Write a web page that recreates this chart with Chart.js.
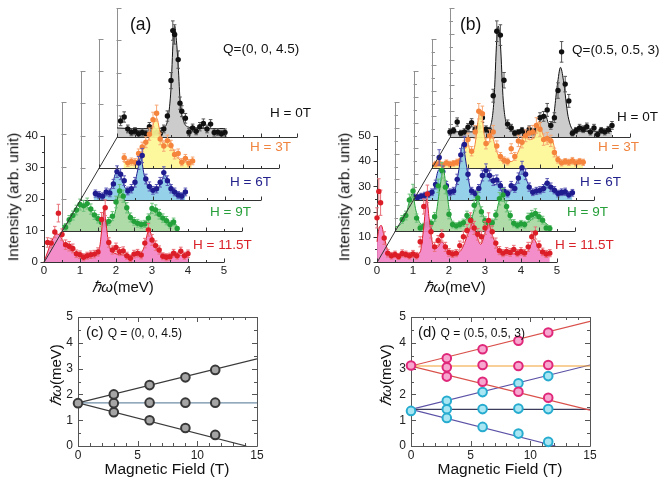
<!DOCTYPE html>
<html>
<head>
<meta charset="utf-8">
<script src="https://cdn.jsdelivr.net/npm/chart.js@4.4.1/dist/chart.umd.min.js"></script>
<style>
  body { margin: 0; width: 660px; height: 478px; background: #fff; position: relative; overflow: hidden;
         font-family: "Liberation Sans", Arial, sans-serif; color: #111; }
  .lay { position: absolute; }
  .ttl { position: absolute; white-space: nowrap; line-height: 1; transform: translate(-50%, -50%); z-index: 50; }
  .vert { transform: translate(-50%, -50%) rotate(-90deg); }
  .lab { position: absolute; white-space: nowrap; line-height: 1; transform: translateY(-50%); z-index: 50; }
</style>
</head>
<body>

<!-- panel (a) / (b) texts -->
<div class="lab" style="left:130px;top:25px;font-size:17.5px">(a)</div>
<div class="lab" style="left:223px;top:49px;font-size:13.5px">Q=(0, 0, 4.5)</div>
<div class="lab" style="left:270px;top:113px;font-size:13.5px">H = 0T</div>
<div class="lab" style="left:250px;top:147px;font-size:13.5px;color:#f0843f">H = 3T</div>
<div class="lab" style="left:230px;top:182px;font-size:13.5px;color:#24228c">H = 6T</div>
<div class="lab" style="left:210px;top:212px;font-size:13.5px;color:#27a03b">H = 9T</div>
<div class="lab" style="left:193px;top:245px;font-size:13.5px;color:#d9222a">H = 11.5T</div>
<div class="ttl vert" style="left:13px;top:197px;font-size:15.5px">Intensity (arb. unit)</div>
<div class="ttl" style="left:123px;top:286px;font-size:15px"><i>ℏω</i>(meV)</div>

<div class="lab" style="left:460px;top:25px;font-size:17.5px">(b)</div>
<div class="lab" style="left:572px;top:50px;font-size:13.5px">Q=(0.5, 0.5, 3)</div>
<div class="lab" style="left:617px;top:117px;font-size:13.5px">H = 0T</div>
<div class="lab" style="left:598px;top:147px;font-size:13.5px;color:#f0843f">H = 3T</div>
<div class="lab" style="left:580px;top:182px;font-size:13.5px;color:#24228c">H = 6T</div>
<div class="lab" style="left:567px;top:212px;font-size:13.5px;color:#27a03b">H = 9T</div>
<div class="lab" style="left:555px;top:245px;font-size:13.5px;color:#d9222a">H = 11.5T</div>
<div class="ttl vert" style="left:344px;top:197px;font-size:15.5px">Intensity (arb. unit)</div>
<div class="ttl" style="left:455px;top:286px;font-size:15px"><i>ℏω</i>(meV)</div>

<!-- panel (c) / (d) texts -->
<div class="lab" style="left:86px;top:331px;font-size:15px">(c) <span style="font-size:12px">Q = (0, 0, 4.5)</span></div>
<div class="ttl vert" style="left:55px;top:375px;font-size:15px"><i>ℏω</i>(meV)</div>
<div class="ttl" style="left:167px;top:469px;font-size:15.5px">Magnetic Field (T)</div>

<div class="lab" style="left:418px;top:331px;font-size:15px">(d) <span style="font-size:12px">Q = (0.5, 0.5, 3)</span></div>
<div class="ttl vert" style="left:385px;top:375px;font-size:15px"><i>ℏω</i>(meV)</div>
<div class="ttl" style="left:500px;top:469px;font-size:15.5px">Magnetic Field (T)</div>

<div class="lay" style="left:0;top:300px;width:330px;height:178px"><canvas id="chartC" width="330" height="178"></canvas></div>
<div class="lay" style="left:330px;top:300px;width:330px;height:178px"><canvas id="chartD" width="330" height="178"></canvas></div>

<script>
// ---- tick values ----
const energyTicks = [0, 1, 2, 3, 4, 5];
const energyMinor = [0.5, 1.5, 2.5, 3.5, 4.5];
const aIntTicks = [0, 10, 20, 30, 40];
const aIntMinor = [5, 15, 25, 35];
const bIntTicks = [0, 10, 20, 30, 40, 50];
const bIntMinor = [5, 15, 25, 35, 45];
const fieldTicks = [0, 5, 10, 15];
const fieldMinor = [1, 2, 3, 4, 6, 7, 8, 9, 11, 12, 13, 14];
const omegaTicks = [0, 1, 2, 3, 4, 5];
const omegaMinor = [0.5, 1.5, 2.5, 3.5, 4.5];

// ---- (a) Q=(0,0,4.5) spectra : [energy, intensity, error] ----
const a115 = [[0.1,6.2,1.5],[0.2,6.0,1.5],[0.3,9.5,1.8],[0.4,15.5,2.8],[0.5,8.7,1.8],[0.6,5.5,1.5],[0.7,5.0,1.5],[0.8,4.3,1.4],
  [0.9,2.6,1.2],[1.0,2.3,1.2],[1.1,1.5,1.1],[1.2,2.0,1.1],[1.3,2.3,1.2],[1.4,2.5,1.2],[1.5,3.2,1.3],[1.6,13.5,2.2],[1.7,17.2,2.5],
  [1.8,6.2,1.5],[1.9,3.8,1.3],[2.0,4.6,1.4],[2.1,3.3,1.3],[2.2,3.5,1.3],[2.3,2.0,1.1],[2.4,1.2,1.0],[2.5,2.5,1.2],[2.6,2.8,1.2],
  [2.7,2.2,1.2],[2.8,6.0,1.5],[2.9,10.2,2.0],[3.0,7.0,1.7],[3.1,5.2,1.5],[3.2,3.8,1.3],[3.3,1.8,1.1],[3.4,1.5,1.1],[3.5,1.7,1.1],
  [3.6,2.8,1.2],[3.7,2.0,1.1],[3.8,3.4,1.3],[3.9,2.0,1.1],[4.0,2.6,1.2]];
const a115Fit = [[0,0],[0.1,3.2],[0.2,6.2],[0.3,8.5],[0.38,8.9],[0.5,7.2],[0.6,5.2],[0.8,3.3],[1.0,2.4],[1.3,2.1],[1.45,2.6],
  [1.55,5.0],[1.62,12.0],[1.67,16.6],[1.72,12.5],[1.8,5.6],[1.9,3.3],[2.1,2.4],[2.5,2.1],[2.7,2.9],[2.8,5.4],[2.88,9.3],
  [2.93,9.9],[3.0,8.0],[3.12,4.3],[3.35,2.5],[3.7,2.1],[4.0,2.0]];
const a9 = [[0.1,1.2,1.1],[0.2,3.5,1.3],[0.3,4.8,1.4],[0.4,6.5,1.5],[0.5,8.2,1.7],[0.6,7.8,1.7],[0.7,8.5,1.7],[0.8,6.8,1.6],
  [0.9,5.0,1.4],[1.0,3.8,1.3],[1.1,2.6,1.2],[1.2,2.2,1.2],[1.3,3.0,1.2],[1.4,4.6,1.4],[1.5,9.0,1.8],[1.6,12.4,2.0],[1.7,10.8,1.9],
  [1.8,7.2,1.6],[1.9,4.2,1.4],[2.0,3.0,1.2],[2.1,2.4,1.2],[2.2,2.0,1.1],[2.3,2.2,1.1],[2.4,4.0,1.3],[2.5,7.0,1.6],[2.6,6.5,1.6],
  [2.7,5.2,1.5],[2.8,4.0,1.3],[2.9,3.2,1.3],[3.0,2.0,1.1],[3.1,2.8,1.2],[3.2,0.8,0.5]];
const a9Fit = [[0,1.5],[0.2,3.0],[0.4,6.0],[0.55,7.8],[0.7,7.5],[0.85,5.5],[1.0,3.5],[1.2,2.2],[1.35,2.8],[1.48,6.0],[1.58,11.5],
  [1.65,12.0],[1.75,9.0],[1.9,4.5],[2.05,2.6],[2.25,2.2],[2.4,4.0],[2.52,6.8],[2.6,6.5],[2.75,4.5],[2.95,2.6],[3.2,1.8]];
const a6 = [[0.4,2.0,1.1],[0.5,1.5,1.1],[0.6,1.2,1.0],[0.7,2.5,1.2],[0.8,2.2,1.2],[0.9,5.0,1.4],[1.0,8.8,1.8],[1.1,8.0,1.7],
  [1.2,6.0,1.5],[1.3,2.8,1.2],[1.4,3.5,1.3],[1.5,5.5,1.5],[1.6,11.5,2.0],[1.7,13.8,2.2],[1.8,6.5,1.5],[1.9,4.2,1.4],[2.0,3.0,1.2],
  [2.1,3.5,1.3],[2.2,5.5,1.5],[2.3,8.5,1.8],[2.4,6.0,1.5],[2.5,3.5,1.3],[2.6,2.5,1.2],[2.7,1.5,1.1],[2.8,1.2,1.0],[2.9,2.5,1.2]];
const a6Fit = [[0.35,1.5],[0.7,2.0],[0.85,4.0],[0.98,8.5],[1.1,7.5],[1.25,3.5],[1.45,3.5],[1.57,9.0],[1.66,13.2],[1.75,8.0],
  [1.9,3.5],[2.1,3.0],[2.22,5.5],[2.32,7.8],[2.42,6.0],[2.6,3.0],[2.9,1.8]];
const a3 = [[0.7,3.2,1.2],[0.8,1.6,1.1],[0.9,2.0,1.1],[1.0,1.8,1.1],[1.1,4.5,1.4],[1.2,6.5,1.5],[1.3,8.0,1.7],[1.4,10.5,1.9],
  [1.5,15.0,2.3],[1.6,17.0,2.5],[1.7,9.0,1.8],[1.8,6.8,1.6],[1.9,8.5,1.7],[2.0,7.0,1.6],[2.1,4.2,1.4],[2.2,4.5,1.4],[2.3,1.8,1.1],
  [2.4,3.0,1.2],[2.5,1.5,1.1],[2.6,2.2,1.2]];
const a3Fit = [[0.68,1.8],[1.0,2.0],[1.15,4.0],[1.3,7.5],[1.42,10.0],[1.52,14.0],[1.6,15.5],[1.68,12.0],[1.78,7.5],[1.88,8.5],
  [1.95,8.8],[2.05,6.0],[2.2,3.0],[2.4,2.0],[2.58,1.8]];
const a0 = [[0.1,5.0,1.5],[0.2,6.2,1.6],[0.3,2.5,1.2],[0.4,1.5,1.1],[0.5,1.8,1.1],[0.6,1.0,1.0],[0.7,1.4,1.1],[0.8,1.0,1.0],
  [0.9,3.2,1.3],[1.0,1.2,1.0],[1.1,1.5,1.1],[1.2,1.0,1.0],[1.3,2.5,1.2],[1.4,6.5,1.6],[1.5,17.5,2.5],[1.55,33.0,3.0],[1.6,31.8,3.0],
  [1.7,24.0,2.7],[1.75,10.5,1.9],[1.8,8.0,1.7],[1.9,5.8,1.5],[2.0,1.5,1.1],[2.1,2.8,1.2],[2.2,1.8,1.1],[2.3,3.2,1.3],[2.4,4.2,1.4],
  [2.5,2.5,1.2],[2.6,4.0,1.4],[2.7,1.4,1.1],[2.8,1.5,1.1],[2.9,1.0,1.0],[3.0,1.4,1.1]];
const a0Fit = [[0,2.8],[0.5,2.6],[1.0,2.6],[1.3,3.0],[1.42,6.0],[1.5,15.0],[1.56,30.0],[1.6,34.5],[1.65,30.0],[1.7,22.0],
  [1.76,10.0],[1.85,5.0],[1.95,3.2],[2.3,2.7],[3.0,2.6]];

// ---- (b) Q=(0.5,0.5,3) spectra ----
const b115 = [[0.0,17.5,4],[0.05,28.0,5],[0.1,23.5,5],[0.2,9.5,2.5],[0.3,3.5,1.5],[0.4,2.5,1.3],[0.5,3.0,1.3],[0.6,2.2,1.2],
  [0.7,3.4,1.4],[0.8,3.0,1.3],[0.9,2.5,1.3],[1.0,3.2,1.4],[1.1,2.5,1.3],[1.2,8.0,2.0],[1.3,22.0,3.0],[1.4,27.0,3.5],[1.5,12.0,2.5],
  [1.6,6.0,1.8],[1.7,8.5,2.0],[1.8,10.5,2.2],[1.9,6.0,1.8],[2.0,3.8,1.5],[2.1,3.2,1.4],[2.2,3.5,1.4],[2.3,6.5,1.8],[2.4,10.0,2.2],
  [2.5,12.5,2.4],[2.6,16.5,3.0],[2.7,13.5,2.6],[2.8,11.0,2.3],[2.9,10.0,2.2],[3.0,13.5,2.6],[3.1,16.5,3.0],[3.2,12.0,2.4],
  [3.3,7.5,2.0],[3.4,4.5,1.6],[3.5,3.5,1.4],[3.6,4.2,1.5],[3.7,3.8,1.5],[3.8,5.0,1.6],[3.9,3.5,1.4],[4.0,4.2,1.5],[4.1,3.6,1.4],
  [4.2,6.0,1.8],[4.3,10.0,2.2],[4.4,11.5,2.4],[4.5,6.5,1.8],[4.6,4.0,1.5],[4.7,3.2,1.4],[4.8,3.5,1.4]];
const b115Fit = [[0,8],[0.05,13],[0.12,14.5],[0.2,10],[0.3,4.5],[0.45,2.6],[1.0,2.5],[1.2,4],[1.3,14],[1.38,25],[1.45,17],
  [1.55,7],[1.65,5.5],[1.8,8],[1.95,5],[2.15,3.2],[2.35,5],[2.55,12],[2.66,15.5],[2.78,10],[2.88,7],[3.0,11.5],[3.1,15],
  [3.22,10],[3.38,5],[3.6,3.3],[4.0,3.2],[4.2,4.5],[4.36,9],[4.5,5],[4.65,3.2],[4.8,3.0]];
const b9 = [[0.2,4.5,1.5],[0.3,6.0,1.7],[0.4,12.0,2.3],[0.5,15.5,2.6],[0.6,5.0,1.6],[0.7,1.2,1.2],[0.8,1.8,1.2],[0.9,2.5,1.3],
  [1.0,3.0,1.3],[1.1,5.5,1.7],[1.2,17.5,2.6],[1.3,23.5,3.0],[1.4,17.0,2.6],[1.5,6.5,1.8],[1.6,2.5,1.3],[1.7,2.0,1.2],[1.8,2.5,1.3],
  [1.9,3.2,1.4],[2.0,6.0,1.7],[2.1,4.5,1.5],[2.2,10.0,2.2],[2.3,12.8,2.4],[2.4,7.5,1.9],[2.5,4.0,1.5],[2.6,3.0,1.4],[2.7,3.2,1.4],
  [2.8,6.2,1.8],[2.9,12.5,2.4],[3.0,14.0,2.5],[3.1,9.5,2.1],[3.2,6.0,1.7],[3.3,3.0,1.4],[3.4,2.2,1.3],[3.5,2.8,1.3],[3.6,2.5,1.3],
  [3.7,5.2,1.7],[3.8,6.2,1.8],[3.9,6.8,1.8],[4.0,5.5,1.7],[4.1,4.2,1.5],[4.2,1.2,1.2],[4.3,1.0,1.1]];
const b9Fit = [[0,1.5],[0.15,2.5],[0.3,6],[0.42,12.5],[0.48,14.5],[0.58,8],[0.7,3],[0.9,2],[1.1,4],[1.25,17],[1.34,24],
  [1.42,17],[1.55,5],[1.75,2.2],[1.9,3.5],[2.0,5],[2.1,4.5],[2.22,9],[2.3,12],[2.4,8],[2.55,3.5],[2.75,4],[2.9,12],[2.97,14],
  [3.08,10],[3.25,3.8],[3.5,2.0],[3.75,4],[3.95,5.8],[4.1,4],[4.3,1.8]];
const b6 = [[0.0,1.2,1.1],[0.1,1.0,1.1],[0.2,1.5,1.1],[0.3,1.8,1.2],[0.4,2.2,1.2],[0.5,3.0,1.3],[0.6,6.0,1.7],[0.7,16.5,3.0],
  [0.8,11.0,2.2],[0.9,5.5,1.7],[1.0,3.0,1.3],[1.1,3.5,1.4],[1.2,8.0,2.0],[1.3,17.5,2.5],[1.4,21.5,3.0],[1.5,10.0,2.1],[1.6,3.5,1.4],
  [1.7,2.5,1.3],[1.8,4.5,1.5],[1.9,9.5,2.1],[2.0,11.5,2.5],[2.1,9.5,2.1],[2.2,7.5,1.9],[2.3,7.8,1.9],[2.4,5.5,1.7],[2.5,3.5,1.4],
  [2.6,2.5,1.3],[2.7,5.5,1.7],[2.8,4.5,1.5],[2.9,8.5,2.0],[3.0,12.5,2.5],[3.1,10.0,2.1],[3.2,5.0,1.6],[3.3,3.0,1.3],[3.4,3.5,1.4],
  [3.5,3.8,1.4],[3.6,4.5,1.5],[3.7,6.5,1.8],[3.8,5.0,1.6],[3.9,3.8,1.4],[4.0,2.5,1.3],[4.1,3.0,1.3],[4.2,3.2,1.4],[4.3,2.0,1.2],
  [4.4,2.8,1.3]];
const b6Fit = [[0,1.0],[0.4,1.5],[0.55,4],[0.66,11],[0.72,12],[0.82,8],[0.95,3],[1.1,3],[1.25,12],[1.35,22],[1.45,14],[1.58,4],
  [1.75,3],[1.9,8],[2.0,11],[2.12,8],[2.25,6],[2.38,7],[2.5,4],[2.65,3],[2.85,7],[3.0,12.5],[3.12,8],[3.3,3],[3.5,3.5],[3.68,7],
  [3.82,4.5],[4.0,2.2],[4.4,2.0]];
const b3 = [[0.1,1.5,1.1],[0.2,1.8,1.1],[0.3,1.2,1.1],[0.4,2.0,1.1],[0.5,1.5,1.1],[0.6,1.8,1.1],[0.7,2.2,1.2],[0.8,3.0,1.3],
  [0.9,8.5,2.0],[1.0,11.0,2.5],[1.1,6.5,1.8],[1.2,14.0,2.5],[1.3,22.0,3.0],[1.4,21.0,3.0],[1.5,9.5,2.1],[1.6,12.5,2.3],[1.7,14.0,2.5],
  [1.8,8.5,2.0],[1.9,4.5,1.5],[2.0,3.0,1.3],[2.1,2.5,1.3],[2.2,7.5,1.9],[2.3,4.5,1.5],[2.4,10.5,2.2],[2.5,10.0,2.2],[2.6,12.5,2.3],
  [2.7,13.5,2.4],[2.8,14.0,2.5],[2.9,16.5,3.0],[3.0,15.0,2.7],[3.1,11.0,2.2],[3.2,11.5,2.3],[3.3,10.5,2.2],[3.4,6.0,1.7],
  [3.5,3.2,1.3],[3.6,2.0,1.2],[3.7,2.5,1.2],[3.8,2.2,1.2],[3.9,2.8,1.3],[4.0,2.0,1.2],[4.1,2.5,1.2],[4.2,2.2,1.2]];
const b3Fit = [[0,1.5],[0.7,1.6],[0.85,4],[0.97,10.5],[1.08,6],[1.18,8],[1.3,20],[1.36,22.5],[1.45,13],[1.55,9],[1.66,12.5],
  [1.78,7],[1.95,2.8],[2.2,2.5],[2.45,8],[2.58,13],[2.7,11],[2.85,12],[2.96,18],[3.08,13],[3.2,10],[3.32,11.5],[3.45,5],[3.6,2],
  [4.2,1.8]];
const b0 = [[0.0,2.0,1.2],[0.1,2.5,1.2],[0.2,5.8,1.6],[0.3,1.5,1.1],[0.4,2.0,1.2],[0.5,3.8,1.4],[0.6,5.5,1.6],[0.7,3.0,1.3],
  [0.8,3.8,1.4],[0.9,7.5,1.9],[1.0,3.0,1.3],[1.1,2.5,1.2],[1.2,16.0,2.5],[1.3,41.0,4.0],[1.4,39.5,4.0],[1.5,22.0,3.0],[1.6,5.0,1.6],
  [1.7,3.5,1.4],[1.8,1.5,1.1],[1.9,1.8,1.1],[2.0,2.5,1.2],[2.1,1.5,1.1],[2.2,3.0,1.3],[2.3,2.0,1.2],[2.4,2.5,1.2],[2.5,7.5,1.9],
  [2.6,8.0,1.9],[2.7,10.5,2.5],[2.8,4.5,1.5],[2.9,7.5,1.9],[3.0,18.0,3.0],[3.1,33.0,4.0],[3.2,20.5,3.0],[3.3,14.0,2.5],[3.4,1.5,1.1],
  [3.5,2.5,1.2],[3.6,3.5,1.4],[3.7,3.0,1.3],[3.8,4.0,1.4],[3.9,2.0,1.2],[4.0,3.5,1.4],[4.1,1.0,1.1],[4.2,2.5,1.2],[4.3,2.0,1.2],
  [4.4,2.8,1.3],[4.5,4.5,1.5]];
const b0Fit = [[0,2],[0.9,2],[1.1,3.5],[1.22,14],[1.3,38],[1.34,43],[1.4,36],[1.48,14],[1.6,4],[1.8,2.2],[2.3,2.2],[2.45,4.5],
  [2.55,8],[2.65,8.5],[2.75,5],[2.85,6],[2.98,20],[3.07,27],[3.15,22],[3.28,8],[3.45,2.5],[3.8,2.2],[4.5,2.2]];

// ---- (c) / (d) peak positions : [field, energy, error] and fitted lines ----
const cUpper = [[3,2.0,0.06],[6,2.36,0.08],[9,2.66,0.13],[11.5,2.95,0.07]];
const cMiddle = [[0,1.66,0.05],[3,1.66,0.05],[6,1.68,0.07],[9,1.68,0.1],[11.5,1.68,0.06]];
const cLower = [[3,1.31,0.06],[6,1.0,0.08],[9,0.7,0.13],[11.5,0.43,0.07]];
const cFitUp = [[0,1.67],[15,3.38]];
const cFitFlat = [[0,1.67],[15,1.67]];
const cFitDown = [[0,1.67],[14.1,0]];

const dMagenta = [[0,3.12,0.05],[3,3.4,0.05],[3,3.05,0.05],[3,2.69,0.05],[6,3.75,0.05],[6,3.14,0.05],[6,2.49,0.05],
  [9,4.08,0.06],[9,3.1,0.05],[9,2.1,0.06],[11.5,4.4,0.05],[11.5,3.14,0.05],[11.5,1.87,0.06]];
const dCyan = [[0,1.36,0.05],[3,1.75,0.05],[3,1.42,0.04],[3,1.09,0.05],[6,2.09,0.05],[6,1.43,0.04],[6,0.74,0.05],
  [9,2.43,0.05],[9,1.45,0.04],[9,0.48,0.06],[11.5,2.71,0.05],[11.5,1.43,0.04],[11.5,0.16,0.05]];
const dFitUpHi = [[0,3.1],[15,4.83]];
const dFitFlatHi = [[0,3.1],[15,3.1]];
const dFitDownHi = [[0,3.1],[15,1.39]];
const dFitUpLo = [[0,1.42],[15,3.14]];
const dFitFlatLo = [[0,1.42],[15,1.42]];
const dFitDownLo = [[0,1.42],[12.1,0]];

// ---- styles ----
const pointCols = ['#dc1e28', '#23a03a', '#1e1c8e', '#f5843c', '#111111'];
const errCols = ['#e8707a', '#6cc17a', '#5a58b5', '#f7a774', '#555555'];
const fillCols = ['rgba(243,130,196,0.9)', 'rgba(166,215,158,0.9)', 'rgba(138,205,232,0.9)',
                  'rgba(253,246,150,0.92)', 'rgba(200,200,200,0.92)'];

// layout of the stacked (waterfall) layers
const DX = 18.25, DY = -31.25;      // shift of each layer towards the back
const PLOT_W = 180, PLOT_H = 129;
const YW = 34, XH = 24, PADT = 10, PADR = 12;

Chart.defaults.font.family = '"Liberation Sans", Arial, sans-serif';
Chart.defaults.color = '#222';

const xy = arr => arr.map(p => ({ x: p[0], y: p[1] }));

// error bars, drawn just under the points of a dataset that has "errs"
const errorBars = {
  id: 'errorBars',
  beforeDatasetDraw(chart, args) {
    const ds = chart.data.datasets[args.index];
    if (!ds.errs) return;
    const ctx = chart.ctx, xs = chart.scales.x, ys = chart.scales.y, c = ds.capW || 2;
    ctx.save();
    ctx.strokeStyle = ds.errColor;
    ctx.lineWidth = 1;
    ctx.beginPath();
    ds.data.forEach((p, i) => {
      const e = ds.errs[i];
      const x = xs.getPixelForValue(p.x);
      const yt = ys.getPixelForValue(p.y + e), yb = ys.getPixelForValue(p.y - e);
      ctx.moveTo(x, yt); ctx.lineTo(x, yb);
      ctx.moveTo(x - c, yt); ctx.lineTo(x + c, yt);
      ctx.moveTo(x - c, yb); ctx.lineTo(x + c, yb);
    });
    ctx.stroke();
    ctx.restore();
  }
};

// axes of one waterfall layer: vertical axis, baseline, ticks, and the depth diagonal for the front one
function layerAxes(cfg) {
  return {
    id: 'layerAxes',
    beforeDatasetsDraw(chart) {
      const ctx = chart.ctx, xs = chart.scales.x, ys = chart.scales.y;
      const x0 = Math.round(xs.getPixelForValue(0)) + 0.5;
      ctx.save();
      ctx.lineWidth = 1;
      ctx.strokeStyle = cfg.front ? '#333' : '#909090';
      ctx.beginPath();
      ctx.moveTo(x0, ys.getPixelForValue(0));
      ctx.lineTo(x0, ys.getPixelForValue(ys.max));
      const tick = (v, len) => {
        const y = Math.round(ys.getPixelForValue(v)) + 0.5;
        if (cfg.front) { ctx.moveTo(x0 - len, y); ctx.lineTo(x0, y); }
        else { ctx.moveTo(x0 - 1, y); ctx.lineTo(x0 + len, y); }
      };
      cfg.yMajor.forEach(v => tick(v, 4));
      cfg.yMinor.forEach(v => tick(v, 2.5));
      ctx.stroke();
      ctx.restore();
    },
    afterDatasetsDraw(chart) {
      const ctx = chart.ctx, xs = chart.scales.x, ys = chart.scales.y;
      const yb = Math.round(ys.getPixelForValue(0)) + 0.5;
      const x0 = xs.getPixelForValue(0);
      ctx.save();
      ctx.lineWidth = 1;
      ctx.strokeStyle = '#333';
      ctx.beginPath();
      ctx.moveTo(x0, yb);
      ctx.lineTo(xs.getPixelForValue(xs.max), yb);
      energyTicks.forEach(v => { const x = Math.round(xs.getPixelForValue(v)) + 0.5; ctx.moveTo(x, yb); ctx.lineTo(x, yb - 4); });
      energyMinor.forEach(v => { const x = Math.round(xs.getPixelForValue(v)) + 0.5; ctx.moveTo(x, yb); ctx.lineTo(x, yb - 2.5); });
      if (cfg.front) {
        ctx.moveTo(x0, yb);
        ctx.lineTo(x0 + cfg.depth * DX, yb + cfg.depth * DY);
      }
      ctx.stroke();
      ctx.restore();
    }
  };
}

function waterfall(P) {
  P.layers.forEach((L, k) => {
    const front = k === 0;
    const W = YW + PLOT_W + PADR, H = PADT + PLOT_H + XH;
    const box = document.createElement('div');
    box.className = 'lay';
    box.style.left = (P.ox + k * DX - YW) + 'px';
    box.style.top = (P.oy + k * DY - PLOT_H - PADT) + 'px';
    box.style.width = W + 'px';
    box.style.height = H + 'px';
    box.style.zIndex = 20 - k;
    const cv = document.createElement('canvas');
    cv.width = W; cv.height = H;
    box.appendChild(cv);
    document.body.appendChild(box);

    new Chart(cv, {
      type: 'scatter',
      data: {
        datasets: [
          { type: 'scatter', data: xy(L.pts), errs: L.pts.map(p => p[2]), errColor: errCols[k], capW: 1.8,
            pointRadius: 2.7, backgroundColor: pointCols[k], borderWidth: 0, order: 0, clip: false },
          { type: 'line', data: xy(L.fit), borderColor: pointCols[k], borderWidth: 1, pointRadius: 0,
            fill: 'origin', backgroundColor: fillCols[k], cubicInterpolationMode: 'monotone', order: 1, clip: false }
        ]
      },
      options: {
        responsive: false, animation: false, events: [],
        layout: { padding: { top: PADT, right: PADR, left: 0, bottom: 0 } },
        scales: {
          x: { type: 'linear', min: 0, max: 5, afterFit: s => { s.height = XH; },
               grid: { display: false, drawTicks: false }, border: { display: false },
               ticks: { display: front, stepSize: 1, padding: 2, font: { size: 11.5 } } },
          y: { type: 'linear', min: 0, max: P.yMax, afterFit: s => { s.width = YW; },
               grid: { display: false, drawTicks: false }, border: { display: false },
               ticks: { display: front, stepSize: P.yStep, padding: 6, font: { size: 11.5 } } }
        },
        plugins: { legend: { display: false }, tooltip: { enabled: false } }
      },
      plugins: [errorBars, layerAxes({
        front, depth: P.layers.length - 1, yMajor: P.yMajor,
        yMinor: (front || P.backMinor) ? P.yMinor : []
      })]
    });
  });
}

waterfall({
  ox: 44, oy: 262, yMax: 40, yStep: 10, yMajor: aIntTicks, yMinor: aIntMinor, backMinor: false,
  layers: [ { pts: a115, fit: a115Fit }, { pts: a9, fit: a9Fit }, { pts: a6, fit: a6Fit },
            { pts: a3, fit: a3Fit }, { pts: a0, fit: a0Fit } ]
});
waterfall({
  ox: 377, oy: 262, yMax: 50, yStep: 10, yMajor: bIntTicks, yMinor: bIntMinor, backMinor: true,
  layers: [ { pts: b115, fit: b115Fit }, { pts: b9, fit: b9Fit }, { pts: b6, fit: b6Fit },
            { pts: b3, fit: b3Fit }, { pts: b0, fit: b0Fit } ]
});

// ---- field dependence panels ----
const framePlugin = {
  id: 'frame',
  beforeDatasetsDraw(chart) {
    const ctx = chart.ctx, a = chart.chartArea, xs = chart.scales.x, ys = chart.scales.y;
    ctx.save();
    ctx.strokeStyle = '#555';
    ctx.lineWidth = 1;
    ctx.beginPath();
    ctx.rect(Math.round(a.left) + 0.5, Math.round(a.top) + 0.5, Math.round(a.right - a.left), Math.round(a.bottom - a.top));
    const xt = (v, len) => { const x = Math.round(xs.getPixelForValue(v)) + 0.5;
      ctx.moveTo(x, a.bottom); ctx.lineTo(x, a.bottom - len); ctx.moveTo(x, a.top); ctx.lineTo(x, a.top + len); };
    const yt = (v, len) => { const y = Math.round(ys.getPixelForValue(v)) + 0.5;
      ctx.moveTo(a.left, y); ctx.lineTo(a.left + len, y); ctx.moveTo(a.right, y); ctx.lineTo(a.right - len, y); };
    fieldTicks.forEach(v => xt(v, 5));
    fieldMinor.forEach(v => xt(v, 3));
    omegaTicks.forEach(v => yt(v, 5));
    omegaMinor.forEach(v => yt(v, 3));
    ctx.stroke();
    ctx.restore();
  }
};

const fitLine = (arr, color) => ({ type: 'line', data: xy(arr), borderColor: color, borderWidth: 1.2,
  pointRadius: 0, fill: false, order: 2 });
const marks = (arr, bg, border) => ({ type: 'scatter', data: xy(arr), errs: arr.map(p => p[2]), errColor: '#333',
  capW: 2, pointRadius: 4.3, backgroundColor: bg, borderColor: border, borderWidth: 2, order: 0, clip: false });

function fieldChart(id, padLeft, padRight, datasets) {
  new Chart(document.getElementById(id), {
    type: 'scatter',
    data: { datasets },
    options: {
      responsive: false, animation: false, events: [],
      layout: { padding: { top: 17, right: padRight, left: 0, bottom: 0 } },
      scales: {
        x: { type: 'linear', min: 0, max: 15, afterFit: s => { s.height = 32; },
             grid: { display: false, drawTicks: false }, border: { display: false },
             ticks: { stepSize: 5, padding: 2, font: { size: 12 } } },
        y: { type: 'linear', min: 0, max: 5, afterFit: s => { s.width = padLeft; },
             grid: { display: false, drawTicks: false }, border: { display: false },
             ticks: { stepSize: 1, padding: 5, font: { size: 12 } } }
      },
      plugins: { legend: { display: false }, tooltip: { enabled: false } }
    },
    plugins: [framePlugin, errorBars]
  });
}

fieldChart('chartC', 78, 73, [
  fitLine(cFitUp, '#3a3a3a'), fitLine(cFitFlat, '#6f8ea6'), fitLine(cFitDown, '#3a3a3a'),
  marks(cUpper, '#a5a5a5', '#383838'), marks(cMiddle, '#a5a5a5', '#383838'), marks(cLower, '#a5a5a5', '#383838')
]);

fieldChart('chartD', 81, 70, [
  fitLine(dFitUpHi, '#d9504a'), fitLine(dFitFlatHi, '#f0a030'), fitLine(dFitDownHi, '#d9504a'),
  fitLine(dFitUpLo, '#5b52a6'), fitLine(dFitFlatLo, '#3c3c5c'), fitLine(dFitDownLo, '#5b52a6'),
  marks(dMagenta, '#f7a6cf', '#e0287a'), marks(dCyan, '#a8e6f3', '#27acd0')
]);
</script>
</body>
</html>
